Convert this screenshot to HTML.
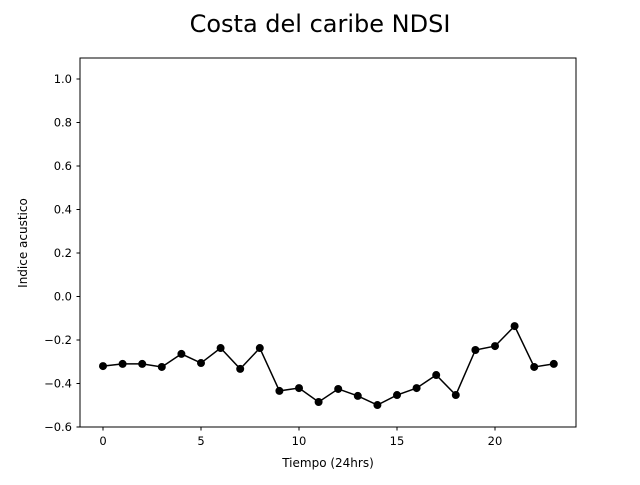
<!DOCTYPE html>
<html><head><meta charset="utf-8"><style>
body{margin:0;background:#fff;}
svg text{font-family:"DejaVu Sans","Liberation Sans",sans-serif;}
</style></head><body>
<svg id="chart" width="640" height="480" xmlns="http://www.w3.org/2000/svg">
<rect width="640" height="480" fill="#fff"/>
<text x="320" y="32" text-anchor="middle" font-size="24">Costa del caribe NDSI</text>
<g id="axes"></g>
<rect x="80" y="58" width="496" height="369" fill="none" stroke="#000" stroke-width="1"/>
<text x="328" y="467" text-anchor="middle" font-size="12">Tiempo (24hrs)</text>
<text transform="translate(27,243) rotate(-90)" text-anchor="middle" font-size="12">Indice acustico</text>
</svg>
<script>
const hours=[0,1,2,3,4,5,6,7,8,9,10,11,12,13,14,15,16,17,18,19,20,21,22,23];
const ndsi=[-0.32,-0.31,-0.31,-0.324,-0.264,-0.306,-0.237,-0.333,-0.237,-0.434,-0.421,-0.485,-0.425,-0.457,-0.499,-0.453,-0.421,-0.361,-0.453,-0.246,-0.228,-0.136,-0.324,-0.31];
const xTicks=[0,5,10,15,20];
const yTicks=[-0.6,-0.4,-0.2,0.0,0.2,0.4,0.6,0.8,1.0];
const NS="http://www.w3.org/2000/svg";
function xs(v){return 103+(v)*19.6;}
function ys(v){return 427-(v+0.6)*217.5;}
const g=document.getElementById('axes');
const svg=document.getElementById('chart');
function mk(t,a){const e=document.createElementNS(NS,t);for(const k in a)e.setAttribute(k,a[k]);return e;}
xTicks.forEach(t=>{
 const l=mk('line',{x1:xs(t),x2:xs(t),y1:427,y2:430.5,stroke:'#000'});
 
 
 g.appendChild(l);
 const tx=mk('text',{x:xs(t),y:445,'text-anchor':'middle','font-size':'11.5'});
 
 
 tx.textContent=t;g.appendChild(tx);
});
yTicks.forEach(t=>{
 const l=mk('line',{x1:76.5,x2:80,y1:ys(t),y2:ys(t),stroke:'#000'});
 
 
 g.appendChild(l);
 const tx=mk('text',{x:72,y:ys(t)+4,'text-anchor':'end','font-size':'11.5'});
 
 
 tx.textContent=(t<0?'\u2212':'')+Math.abs(t).toFixed(1);g.appendChild(tx);
});
const pl=mk('polyline',{points:hours.map((h,i)=>xs(h)+','+ys(ndsi[i])).join(' '),fill:'none',stroke:'#000','stroke-width':1.5});


svg.appendChild(pl);
hours.forEach((h,i)=>{
 const c=mk('circle',{cx:xs(h),cy:ys(ndsi[i]),r:4,fill:'#000'});
 
 
 svg.appendChild(c);
});
</script>
</body></html>
